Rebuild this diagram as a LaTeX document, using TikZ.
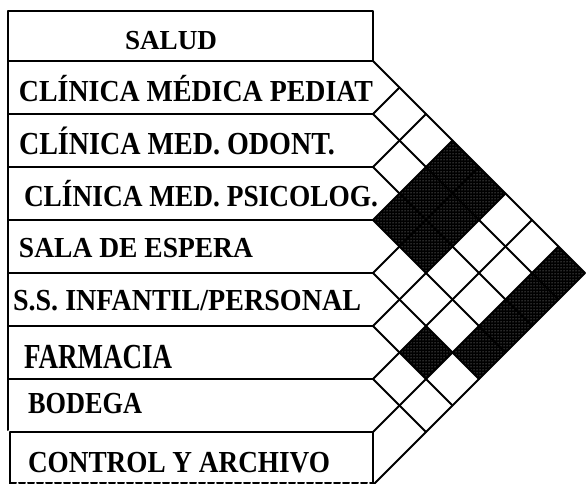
\documentclass[tikz,border=0pt]{standalone}
\usepackage{fontspec}
\setmainfont{Liberation Serif}
\usepackage{graphicx}
\usetikzlibrary{patterns}
\newcommand\lbl[3]{\resizebox{#1pt}{#2pt}{\bfseries\vphantom{X}\smash{#3}}}
\begin{document}
\begin{tikzpicture}[x=1pt,y=-1pt,
  rule/.style={line width=2pt,line join=round,line cap=round},
  darkcell/.style={fill=black,postaction={pattern=dots,pattern color=white!70!black}},
  txt/.style={anchor=base west,inner sep=0pt,outer sep=0pt}]
\useasboundingbox (0,0) rectangle (587,484);
% boundary points on the right edge of the list
\foreach \k in {0,...,8}{\coordinate (b\k) at (373,{61+53*\k});}
% shaded cells (row r with row s)
\foreach \r/\s in {1/4,1/5,2/4,2/5,3/4,3/5,1/8,2/8,3/8,4/8,5/7}{
  \fill[darkcell] ({373+26.5*(\s-\r)},{61+26.5*(\r+\s-2)}) -- ++(26.5,26.5) -- ++(-26.5,26.5) -- ++(-26.5,-26.5) -- cycle;
}
% diagonals going down-right
\foreach \k in {0,...,6}{
  \draw[rule] (b\k) -- ++({(424-53*\k)/2},{(424-53*\k)/2});
}
% diagonals going up-right
\foreach \k in {1,...,8}{
  \draw[rule] (b\k) -- ++({53*\k/2},{-53*\k/2});
}
% list frame
\draw[rule] (8,11) rectangle (b0);
\draw[rule] (8,61) -- (8,430);
\foreach \k in {1,...,6}{\draw[rule] (8,{61+53*\k}) -- (b\k);}
\draw[rule] (10,488) -- (10,432) -- (b7) -- (b8);
\draw[rule,dash pattern=on 6pt off 3pt] (10,483) -- (373,483);
% labels
\node[txt] (salud) at (125,50) {\lbl{92}{18}{SALUD}};
\node[txt] (r1) at (19,102) {\lbl{354}{20}{CLÍNICA MÉDICA PEDIAT}};
\node[txt] (r2) at (19,155) {\lbl{316}{21}{CLÍNICA MED. ODONT.}};
\node[txt] (r3) at (24,207) {\lbl{354}{20}{CLÍNICA MED. PSICOLOG.}};
\node[txt] (r4) at (19,257) {\lbl{234}{19}{SALA DE ESPERA}};
\node[txt] (r5) at (13,310) {\lbl{348}{20}{S.S. INFANTIL/PERSONAL}};
\node[txt] (r6) at (24,368) {\lbl{148}{23}{FARMACIA}};
\node[txt] (r7) at (28,413) {\lbl{114}{20}{BODEGA}};
\node[txt] (r8) at (28,472) {\lbl{302}{20}{CONTROL Y ARCHIVO}};
\end{tikzpicture}
\end{document}
